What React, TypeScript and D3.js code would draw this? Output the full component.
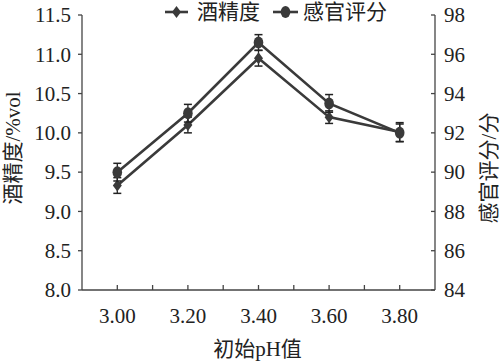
import React, { useRef, useEffect } from "react";
import * as d3 from "d3";

const W = 502;
const H = 363;
const MARGIN = { top: 15, right: 67, bottom: 73, left: 82 };

const phValues = [3.0, 3.2, 3.4, 3.6, 3.8];
const alcohol = [9.33, 10.1, 10.95, 10.2, 10.01];
const alcoholErr = [0.1, 0.1, 0.1, 0.08, 0.12];
const sensory = [90.0, 93.0, 96.6, 93.5, 92.0];
const sensoryErr = [0.45, 0.45, 0.4, 0.45, 0.45];

const leftTicks = [8.0, 8.5, 9.0, 9.5, 10.0, 10.5, 11.0, 11.5];
const rightTicks = [84, 86, 88, 90, 92, 94, 96, 98];
const xTicks = [3.0, 3.1, 3.2, 3.3, 3.4, 3.5, 3.6, 3.7, 3.8];
const xLabels = [3.0, 3.2, 3.4, 3.6, 3.8];

const FONT = "'Liberation Serif', 'Times New Roman', 'DejaVu Serif', 'Noto Sans CJK SC', serif";
const INK = "#3a3a3a";

export default function App() {
  const ref = useRef<SVGSVGElement>(null);

  useEffect(() => {
    document.body.style.margin = "0";
    const svg = d3.select(ref.current);
    svg.selectAll("*").remove();

    const x0 = MARGIN.left;
    const x1 = W - MARGIN.right;
    const y0 = H - MARGIN.bottom;
    const y1 = MARGIN.top;

    const x = d3.scaleLinear().domain([2.9, 3.9]).range([x0, x1]);
    const yL = d3.scaleLinear().domain([8, 11.5]).range([y0, y1]);
    const yR = d3.scaleLinear().domain([84, 98]).range([y0, y1]);

    const g = svg.append("g");

    // axes lines
    const axisColor = "#444";
    g.append("line").attr("x1", x0).attr("x2", x0).attr("y1", y1).attr("y2", y0)
      .attr("stroke", axisColor).attr("stroke-width", 1.3);
    g.append("line").attr("x1", x1).attr("x2", x1).attr("y1", y1).attr("y2", y0)
      .attr("stroke", axisColor).attr("stroke-width", 1.3);
    g.append("line").attr("x1", x0).attr("x2", x1).attr("y1", y0).attr("y2", y0)
      .attr("stroke", axisColor).attr("stroke-width", 1.3);

    // left ticks (outward)
    leftTicks.forEach((t) => {
      g.append("line").attr("x1", x0 - 4).attr("x2", x0).attr("y1", yL(t)).attr("y2", yL(t))
        .attr("stroke", axisColor).attr("stroke-width", 1.3);
      g.append("text").attr("x", x0 - 11).attr("y", yL(t)).attr("dy", "0.35em")
        .attr("text-anchor", "end").attr("font-family", FONT).attr("font-size", 21)
        .attr("fill", "#222").text(t.toFixed(1));
    });

    // right ticks (inward)
    rightTicks.forEach((t) => {
      g.append("line").attr("x1", x1 - 4).attr("x2", x1).attr("y1", yR(t)).attr("y2", yR(t))
        .attr("stroke", axisColor).attr("stroke-width", 1.3);
      g.append("text").attr("x", x1 + 9).attr("y", yR(t)).attr("dy", "0.35em")
        .attr("text-anchor", "start").attr("font-family", FONT).attr("font-size", 21)
        .attr("fill", "#222").text(String(t));
    });

    // bottom ticks (inward)
    xTicks.forEach((t) => {
      g.append("line").attr("x1", x(t)).attr("x2", x(t)).attr("y1", y0 - 5).attr("y2", y0)
        .attr("stroke", axisColor).attr("stroke-width", 1.3);
    });
    xLabels.forEach((t) => {
      g.append("text").attr("x", x(t)).attr("y", y0 + 33)
        .attr("text-anchor", "middle").attr("font-family", FONT).attr("font-size", 21)
        .attr("fill", "#222").text(t.toFixed(2));
    });

    // axis titles
    g.append("text").attr("x", (x0 + x1) / 2 - 1).attr("y", 356)
      .attr("text-anchor", "middle").attr("font-family", FONT).attr("font-size", 21)
      .attr("fill", "#222").text("初始pH值");
    g.append("text").attr("transform", `translate(20,148) rotate(-90)`)
      .attr("text-anchor", "middle").attr("font-family", FONT).attr("font-size", 21)
      .attr("fill", "#222").text("酒精度/%vol");
    g.append("text").attr("transform", `translate(496,168) rotate(-90)`)
      .attr("text-anchor", "middle").attr("font-family", FONT).attr("font-size", 21)
      .attr("fill", "#222").text("感官评分/分");

    const diamond = (cx: number, cy: number) =>
      `M${cx},${cy - 6}L${cx + 4.5},${cy}L${cx},${cy + 6}L${cx - 4.5},${cy}Z`;

    const drawSeries = (
      vals: number[],
      errs: number[],
      y: d3.ScaleLinear<number, number>,
      shape: "diamond" | "circle"
    ) => {
      const line = d3.line<number>().x((_, i) => x(phValues[i])).y((d) => y(d));
      g.append("path").datum(vals).attr("d", line).attr("fill", "none")
        .attr("stroke", INK).attr("stroke-width", 2.6);
      vals.forEach((v, i) => {
        const cx = x(phValues[i]);
        const top = y(v + errs[i]);
        const bot = y(v - errs[i]);
        g.append("line").attr("x1", cx).attr("x2", cx).attr("y1", top).attr("y2", bot)
          .attr("stroke", "#222").attr("stroke-width", 1.3);
        [top, bot].forEach((yy) =>
          g.append("line").attr("x1", cx - 4).attr("x2", cx + 4).attr("y1", yy).attr("y2", yy)
            .attr("stroke", "#222").attr("stroke-width", 1.5)
        );
        if (shape === "diamond") {
          g.append("path").attr("d", diamond(cx, y(v))).attr("fill", INK);
        } else {
          g.append("ellipse").attr("cx", cx).attr("cy", y(v)).attr("rx", 4.8).attr("ry", 6)
            .attr("fill", INK);
        }
      });
    };

    drawSeries(alcohol, alcoholErr, yL, "diamond");
    drawSeries(sensory, sensoryErr, yR, "circle");

    // legend
    const ly = 12;
    g.append("line").attr("x1", 165).attr("x2", 188).attr("y1", ly).attr("y2", ly)
      .attr("stroke", INK).attr("stroke-width", 2.6);
    g.append("path").attr("d", diamond(176.5, ly)).attr("fill", INK);
    g.append("text").attr("x", 197).attr("y", ly).attr("dy", "0.35em")
      .attr("font-family", FONT).attr("font-size", 21).attr("fill", "#222").text("酒精度");
    g.append("line").attr("x1", 273).attr("x2", 298).attr("y1", ly).attr("y2", ly)
      .attr("stroke", INK).attr("stroke-width", 2.6);
    g.append("ellipse").attr("cx", 285.5).attr("cy", ly).attr("rx", 4.8).attr("ry", 6)
      .attr("fill", INK);
    g.append("text").attr("x", 303).attr("y", ly).attr("dy", "0.35em")
      .attr("font-family", FONT).attr("font-size", 21).attr("fill", "#222").text("感官评分");
  }, []);

  return <svg ref={ref} width={W} height={H} style={{ display: "block", background: "#fff" }} />;
}
